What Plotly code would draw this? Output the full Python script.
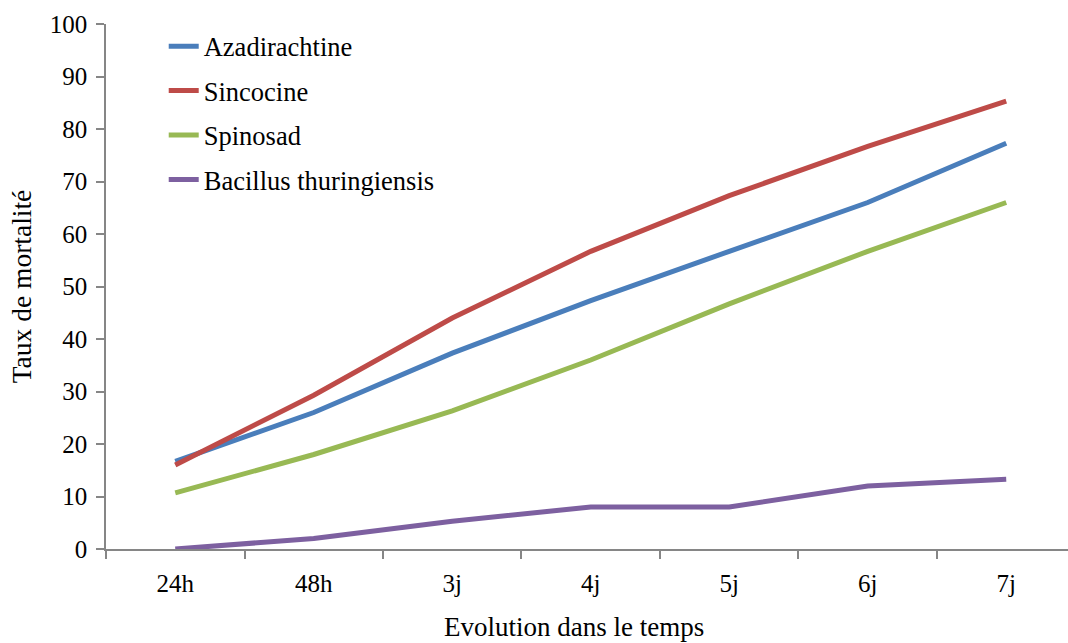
import plotly.graph_objects as go

# Time points and mortality rates (%) for each treatment
periods = ["24h", "48h", "3j", "4j", "5j", "6j", "7j"]
azadirachtine = [16.7, 26.0, 37.3, 47.3, 56.7, 66.0, 77.3]
sincocine = [16.0, 29.3, 44.0, 56.7, 67.3, 76.7, 85.3]
spinosad = [10.7, 18.0, 26.3, 36.0, 46.7, 56.7, 66.0]
bacillus = [0.0, 2.0, 5.3, 8.0, 8.0, 12.0, 13.3]

series = [
    ("Azadirachtine", azadirachtine, "#4A7EBB"),
    ("Sincocine", sincocine, "#BE4B48"),
    ("Spinosad", spinosad, "#98B954"),
    ("Bacillus thuringiensis", bacillus, "#7D60A0"),
]

FONT = "Liberation Serif"
AXIS_COLOR = "#868686"

fig = go.Figure()
for i, (name, values, color) in enumerate(series):
    fig.add_trace(go.Scatter(
        x=periods, y=values, name=name, mode="lines",
        line=dict(color=color, width=5),
        legendgroup=f"g{i}",
    ))

fig.update_layout(
    width=1068, height=643,
    margin=dict(l=106, r=0, t=24, b=94),
    paper_bgcolor="white", plot_bgcolor="white",
    font=dict(family=FONT, size=25, color="black"),
    showlegend=True,
    legend=dict(
        x=0.06, y=1.003, xanchor="left", yanchor="top",
        font=dict(family=FONT, size=26.5, color="black"),
        bgcolor="rgba(0,0,0,0)",
        tracegroupgap=7,
    ),
    xaxis=dict(
        type="category", range=[-0.5, 6.446],
        showline=True, linecolor=AXIS_COLOR, linewidth=1.5,
        ticks="outside", tickson="boundaries", ticklen=8,
        tickcolor=AXIS_COLOR, tickwidth=1.5,
        showgrid=False, zeroline=False,
        tickfont=dict(family=FONT, size=25),
        ticklabelstandoff=11,
    ),
    yaxis=dict(
        range=[0, 100], dtick=10,
        showline=True, linecolor=AXIS_COLOR, linewidth=1.5,
        ticks="outside", ticklen=8, tickcolor=AXIS_COLOR, tickwidth=1.5,
        showgrid=False, zeroline=False,
        tickfont=dict(family=FONT, size=25),
        ticklabelstandoff=4,
        title=dict(text="Taux de mortalité",
                   font=dict(family=FONT, size=27.5), standoff=10),
    ),
    annotations=[dict(
        text="Evolution dans le temps", xref="paper", yref="paper",
        x=0.4865, y=0, yshift=-78, xanchor="center", yanchor="middle",
        showarrow=False, font=dict(family=FONT, size=27),
    )],
)

fig.write_html("out.html")
